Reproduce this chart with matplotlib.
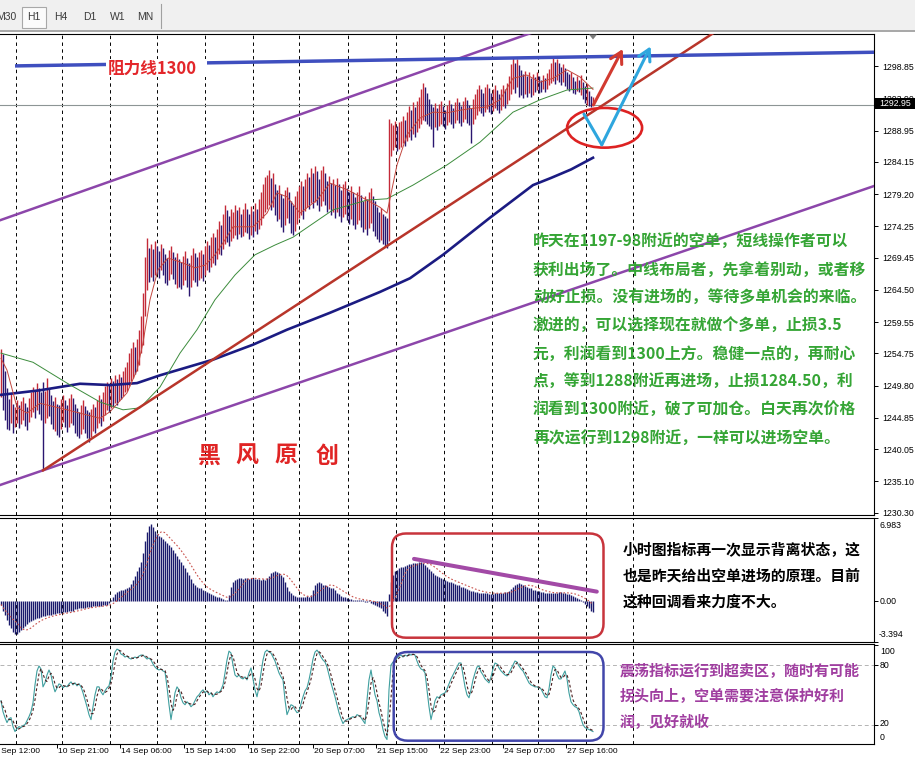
import numpy as np
import pandas as pd
import matplotlib
matplotlib.use("Agg")
import matplotlib.pyplot as plt
from matplotlib.patches import Ellipse, FancyBboxPatch, Polygon, Rectangle
from matplotlib.transforms import blended_transform_factory

plt.rcParams['font.family'] = ['Noto Sans CJK SC', 'DejaVu Sans']

# ---------------- XAUUSD H1 bars (high / low per bar) ----------------
bar_high = [
    1255.5, 1254.6, 1252.0, 1249.5, 1247.8, 1248.5, 1247.0, 1246.5, 1247.6, 1246.8, 1247.4,
    1248.0, 1247.2, 1246.5, 1247.9, 1248.8, 1249.6, 1249.0, 1250.2, 1249.5, 1248.8, 1250.4,
    1249.0, 1251.0, 1249.5, 1248.3, 1247.5, 1248.0, 1247.0, 1246.8, 1247.8, 1248.4, 1247.6,
    1246.9, 1247.9, 1248.6, 1247.9, 1247.0, 1246.4, 1245.8, 1246.9, 1247.6, 1246.7, 1246.0, 1245.7,
    1246.2, 1247.0, 1246.5, 1247.6, 1248.3, 1247.8, 1248.9, 1249.8, 1250.4, 1250.0, 1251.0,
    1250.5, 1251.4, 1250.8, 1251.6, 1251.2, 1252.0, 1252.6,
    1253.5, 1254.8, 1255.6, 1256.5, 1255.8, 1257.0, 1258.3, 1260.5, 1264.0, 1269.5, 1272.5, 1271.0,
    1271.5, 1270.8, 1272.0, 1271.2, 1270.5, 1271.6, 1270.9, 1270.0, 1269.4, 1270.6, 1271.3, 1270.4,
    1269.6, 1270.2, 1269.3, 1268.8, 1269.7, 1270.5, 1269.4, 1268.7, 1269.8, 1270.9, 1270.2, 1269.5, 1270.4,
    1270.6, 1270.0, 1271.2, 1272.0, 1271.4, 1272.6, 1273.3, 1272.7, 1273.9, 1275.1, 1274.4, 1276.2,
    1277.6, 1276.8, 1275.9, 1276.9,
    1276.4, 1277.5, 1276.8, 1277.3, 1276.1, 1276.9, 1277.8, 1277.0, 1276.2, 1277.4, 1276.7, 1277.9,
    1276.9, 1278.4, 1279.6, 1280.8, 1281.9, 1282.1, 1282.9, 1281.7, 1282.4, 1280.8, 1279.9, 1280.6,
    1279.3, 1278.6, 1279.8, 1280.3, 1279.5, 1278.2, 1277.6, 1278.9, 1279.7, 1280.4,
    1281.2, 1280.5, 1281.6, 1282.5, 1281.8, 1283.2, 1282.4, 1283.5, 1282.7, 1281.6, 1282.9, 1283.6,
    1282.5, 1281.3, 1282.0, 1280.9, 1281.6, 1280.6, 1281.7, 1280.8, 1279.9, 1280.7, 1281.3, 1280.2,
    1279.5, 1280.4, 1279.6, 1278.7, 1279.5, 1280.4, 1279.1, 1278.2, 1279.0, 1278.4, 1279.5, 1280.2,
    1279.0, 1278.1, 1277.3, 1276.5, 1277.1, 1276.2, 1275.8,
    1275.5, 1290.8, 1290.2, 1289.8, 1290.5, 1289.6, 1290.3,
    1290.4, 1291.2, 1290.6, 1291.9, 1292.8, 1292.2, 1293.3, 1292.6, 1293.5, 1294.2, 1295.3, 1296.3,
    1295.6, 1294.8,
    1293.8, 1293.0, 1292.6, 1293.2, 1292.4, 1293.0, 1293.5, 1292.8, 1292.2, 1292.9, 1293.6, 1293.1,
    1292.5, 1293.3, 1294.0, 1293.4, 1292.8, 1293.5, 1294.1, 1293.6, 1292.9, 1292.4, 1293.8,
    1294.6, 1295.4, 1296.0, 1295.3, 1294.7, 1295.6, 1296.2, 1295.5, 1294.8, 1295.4, 1295.9, 1295.2,
    1294.6, 1295.3, 1296.0, 1295.4, 1296.3, 1297.4,
    1299.2, 1300.1, 1299.4, 1300.0, 1299.0, 1298.2, 1297.6, 1298.1, 1297.4, 1297.9, 1297.0, 1297.7,
    1297.2, 1297.9, 1297.3, 1296.8, 1297.5, 1297.0, 1297.8, 1298.5, 1299.4, 1300.1, 1299.5, 1300.0,
    1299.3, 1298.7, 1299.2, 1298.6, 1298.0,
    1297.6, 1297.9, 1297.2, 1296.6, 1297.3, 1296.8, 1297.5, 1296.4, 1295.8, 1296.2, 1295.0, 1294.3, 1294.2,
]
bar_low = [
    1248.0, 1246.0, 1244.5, 1243.2, 1243.0, 1244.0, 1242.6, 1243.5, 1244.0, 1243.3, 1243.9,
    1244.5, 1243.6, 1243.0, 1244.2, 1245.0, 1245.8, 1244.9, 1246.0, 1245.5, 1244.6, 1236.8,
    1244.0, 1244.8, 1245.2, 1243.9, 1243.2, 1242.9, 1242.3, 1242.0, 1243.1, 1244.3, 1243.5,
    1242.7, 1243.4, 1244.0, 1243.7, 1242.6, 1242.1, 1241.7, 1242.4, 1243.1, 1242.5, 1241.8, 1241.2,
    1242.0, 1242.8, 1242.6, 1243.3, 1244.0, 1243.6, 1244.4, 1245.3, 1246.0, 1245.8, 1246.4,
    1246.6, 1247.2, 1246.9, 1247.5, 1247.7, 1248.2, 1248.8,
    1249.0, 1249.8, 1250.5, 1251.0, 1251.6, 1252.0, 1253.0, 1254.8, 1256.0, 1260.5, 1264.5, 1265.8,
    1266.5, 1265.9, 1266.8, 1267.0, 1266.4, 1267.5, 1266.8, 1265.6, 1265.2, 1266.0, 1266.9, 1266.2,
    1265.4, 1264.8, 1265.0, 1264.6, 1265.3, 1266.1, 1265.0, 1263.6, 1264.9, 1266.0, 1265.7, 1265.1, 1266.0,
    1266.4, 1265.9, 1266.8, 1267.5, 1267.2, 1268.0, 1268.6, 1268.3, 1269.2, 1270.0, 1269.9, 1270.8,
    1271.5, 1271.9, 1271.2, 1272.0,
    1272.5, 1273.0, 1272.3, 1273.1, 1272.6, 1272.8, 1273.4, 1273.2, 1272.4, 1273.0, 1272.7, 1273.6,
    1273.1, 1273.8, 1274.5, 1275.6, 1276.4, 1277.0, 1277.5, 1276.8, 1277.2, 1276.0, 1275.1, 1275.4,
    1274.2, 1273.4, 1274.5, 1275.6, 1274.8, 1273.3, 1272.9, 1273.6, 1274.6, 1275.5,
    1276.0, 1275.4, 1276.6, 1277.3, 1276.9, 1277.8, 1277.1, 1278.0, 1277.5, 1276.7, 1277.4, 1278.2,
    1277.6, 1276.4, 1276.9, 1276.0, 1276.5, 1275.6, 1276.4, 1275.8, 1275.0, 1275.7, 1276.2, 1275.3,
    1274.6, 1275.4, 1274.4, 1273.9, 1274.6, 1275.3, 1274.2, 1273.4, 1273.8, 1273.0, 1274.0, 1274.8,
    1273.6, 1272.8, 1272.4, 1271.8, 1272.1, 1271.5, 1271.2,
    1271.0, 1272.0, 1285.0, 1286.0, 1286.4, 1285.8, 1286.2,
    1286.5, 1287.0, 1286.6, 1287.3, 1288.0, 1287.6, 1288.4, 1288.0, 1288.7, 1289.3, 1290.0, 1290.6,
    1290.4, 1290.0,
    1289.6, 1289.2, 1286.4, 1289.5, 1289.0, 1289.7, 1290.0, 1289.6, 1289.2, 1289.8, 1290.3, 1290.0,
    1289.4, 1290.1, 1290.6, 1290.2, 1289.7, 1290.3, 1290.8, 1290.2, 1289.8, 1287.0, 1290.0,
    1290.8, 1291.4, 1292.0, 1291.6, 1291.2, 1291.9, 1292.3, 1291.8, 1291.5, 1292.0, 1292.5, 1292.1,
    1291.6, 1292.2, 1292.8, 1292.4, 1293.0, 1293.6,
    1294.6, 1295.3, 1294.8, 1295.6, 1294.2, 1294.5, 1294.0, 1294.6, 1294.2, 1294.8, 1294.1, 1294.5,
    1294.9, 1295.2, 1294.8, 1294.9, 1295.3, 1294.9, 1295.4, 1295.9, 1296.3, 1296.6, 1296.2, 1296.8,
    1296.4, 1296.0, 1296.5, 1295.8, 1295.4,
    1295.0, 1295.3, 1294.7, 1294.6, 1295.1, 1294.9, 1294.5, 1293.8, 1293.2, 1292.9, 1292.7, 1292.6, 1292.9,
]

# moving averages (bar index, price)
ma_fast_bar = [0, 3, 8, 13, 19.5, 33, 49.5, 54.5, 63, 68, 71, 74.5, 78.5, 83.5, 89.5, 97, 102,
               107, 112, 116, 126, 133, 138, 143, 149.5, 158, 164.5, 173, 183, 189.5, 193, 198,
               203, 209.5, 216, 223, 229.5, 236, 243, 249.5, 256, 263, 269.5, 276, 283, 289.5, 296]
ma_fast = [1254.0, 1252.2, 1246.5, 1245.6, 1247.1, 1246.1, 1244.8, 1245.8, 1248.7, 1252.2,
           1256.4, 1263.0, 1267.6, 1269.4, 1268.8, 1267.9, 1268.3, 1269.9, 1272.2, 1274.2,
           1274.2, 1276.3, 1279.4, 1278.8, 1276.3, 1278.3, 1280.9, 1279.9, 1278.3, 1277.2,
           1276.3, 1283.7, 1288.3, 1290.9, 1291.8, 1291.7, 1292.1, 1292.4, 1292.6, 1293.7,
           1297.0, 1297.5, 1296.4, 1297.0, 1298.3, 1297.2, 1295.3]
ma_mid_bar = [0, 16, 33, 49.5, 61, 69.5, 79.5, 89.5, 98, 107, 117, 127, 137, 146, 166, 183, 193,
              206, 223, 239.5, 256, 269.5, 283, 296]
ma_mid = [1254.8, 1253.4, 1250.2, 1247.3, 1246.1, 1246.4, 1249.6, 1254.8, 1258.4, 1263.0,
          1266.8, 1269.9, 1271.4, 1272.6, 1276.8, 1278.3, 1278.5, 1280.6, 1283.7, 1287.2,
          1291.8, 1293.7, 1295.2, 1295.5]
ma_slow_bar = [0, 19.5, 39.5, 54.5, 68, 79.5, 106, 126, 143, 164.5, 189.5, 204.5, 221, 244.5,
               266, 275, 285, 296]
ma_slow = [1248.4, 1249.1, 1250.1, 1249.9, 1250.2, 1251.4, 1253.8, 1256.1, 1258.4, 1261.0,
           1264.2, 1266.3, 1269.9, 1275.6, 1280.6, 1281.7, 1283.0, 1284.8]

# MACD main line per bar
macd_main = [
    -0.3, -0.8, -1.2, -1.6, -2.0, -2.3, -2.6, -2.8, -2.75, -2.6,
    -2.4, -2.25, -2.1, -1.95, -1.8, -1.7, -1.6, -1.55, -1.45, -1.4,
    -1.35, -1.3, -1.3, -1.2, -1.15, -1.15, -1.1, -1.1, -1.05, -1.0,
    -1.0, -0.95, -0.95, -0.9, -0.85, -0.85, -0.8, -0.7, -0.65, -0.6,
    -0.6, -0.55, -0.55, -0.5, -0.5, -0.5, -0.45, -0.45, -0.4, -0.4,
    -0.4, -0.35, -0.35, -0.3, -0.15, 0.05, 0.3, 0.6, 0.75, 0.85,
    0.9, 0.95, 1.0, 1.1, 1.2, 1.4, 1.75, 2.1, 2.5, 2.8,
    3.3, 4.0, 5.0, 5.8, 6.3, 6.4, 6.15, 5.85, 5.6, 5.45,
    5.35, 5.2, 5.0, 4.87, 4.7, 4.5, 4.3, 4.05, 3.8, 3.55,
    3.3, 3.0, 2.75, 2.45, 2.2, 1.85, 1.5, 1.35, 1.2, 1.1,
    1.05, 0.95, 0.85, 0.77, 0.7, 0.6, 0.5, 0.42, 0.35, 0.3,
    0.25, 0.15, 0.1, 0.07, 0.5, 1.2, 1.6, 1.75, 1.85, 1.9,
    1.9, 1.85, 1.95, 1.9, 1.85, 1.9, 1.9, 1.85, 1.8, 1.8,
    1.75, 1.8, 1.75, 1.9, 2.1, 2.35, 2.45, 2.5, 2.45, 2.3,
    2.15, 2.0, 1.6, 1.2, 0.85, 0.65, 0.5, 0.4, 0.35, 0.35,
    0.3, 0.35, 0.35, 0.4, 0.35, 0.5, 0.9, 1.3, 1.5, 1.55,
    1.5, 1.35, 1.3, 1.25, 1.15, 1.1, 1.05, 0.9, 0.7, 0.55,
    0.45, 0.35, 0.3, 0.25, 0.2, 0.15, 0.12, 0.1, 0.1, 0.07,
    0.05, 0.1, -0.05, -0.1, 0.05, -0.15, -0.25, -0.3, -0.4, -0.5,
    -0.6, -0.8, -1.05, -1.3, 0.6, 1.6, 2.2, 2.5, 2.6, 2.75,
    2.8, 2.85, 2.9, 3.0, 3.05, 3.1, 3.15, 3.2, 3.2, 3.25,
    3.3, 3.2, 3.0, 2.85, 2.7, 2.5, 2.35, 2.2, 2.1, 2.0,
    1.9, 1.85, 1.75, 1.65, 1.6, 1.55, 1.5, 1.45, 1.35, 1.3,
    1.2, 1.15, 1.05, 1.0, 0.95, 0.85, 0.8, 0.77, 0.75, 0.7,
    0.7, 0.65, 0.65, 0.65, 0.6, 0.6, 0.62, 0.63, 0.65, 0.7,
    0.68, 0.7, 0.72, 0.75, 0.8, 1.0, 1.2, 1.35, 1.45, 1.5,
    1.45, 1.35, 1.25, 1.15, 1.1, 1.05, 0.95, 0.9, 0.85, 0.8,
    0.75, 0.72, 0.68, 0.65, 0.63, 0.63, 0.65, 0.68, 0.7, 0.72,
    0.72, 0.7, 0.68, 0.62, 0.55, 0.49, 0.42, 0.35, 0.25, 0.15,
    0.05, -0.1, -0.24, -0.4, -0.6, -0.8, -0.95,
]

# Stochastic %K per bar
stoch_k = [
    44, 33, 27, 22, 26, 27, 18, 13, 16, 18,
    17, 19, 20, 24, 28, 33, 42, 60, 74, 79,
    76, 58, 62, 70, 75, 70, 60, 53, 57, 61,
    60, 57, 59, 58, 61, 63, 60, 62, 59, 61,
    58, 52, 45, 38, 30, 25, 38, 50, 58, 58,
    53, 50, 54, 57, 59, 68, 84, 93, 96, 95,
    91, 90, 88, 89, 87, 86, 87, 88, 87, 89,
    90, 90, 88, 86, 87, 85, 81, 78, 76, 75,
    76, 74, 73, 58, 40, 25, 38, 52, 58, 55,
    47, 42, 40, 43, 41, 38, 40, 44, 48, 50,
    53, 55, 52, 54, 50, 52, 48, 51, 53, 52,
    55, 60, 72, 85, 94, 92, 80, 70, 68, 70,
    67, 66, 68, 65, 72, 77, 66, 55, 48, 58,
    72, 85, 93, 95, 93, 92, 88, 84, 78, 72,
    68, 65, 45, 30, 35, 40, 39, 35, 32, 33,
    41, 48, 54, 57, 65, 75, 86, 93, 95, 92,
    88, 85, 83, 78, 70, 62, 55, 48, 40, 32,
    26, 21, 24, 25, 26, 27, 28, 27, 30, 29,
    27, 24, 21, 45, 65, 75, 62, 50, 44, 32,
    25, 15, 8, 5, 55, 80, 83, 85, 87, 89,
    90, 88, 90, 89, 91, 90, 91, 90, 84, 79,
    76, 75, 72, 55, 38, 25, 34, 44, 48, 47,
    50, 51, 52, 56, 61, 66, 70, 74, 78, 82,
    82, 70, 58, 50, 47, 55, 65, 72, 78, 79,
    73, 70, 66, 64, 62, 68, 76, 82, 81, 77,
    74, 72, 70, 69, 72, 76, 80, 84, 83, 79,
    76, 74, 70, 66, 62, 60, 59, 58, 58, 57,
    56, 52, 48, 47, 56, 70, 79, 77, 70, 66,
    66, 70, 74, 66, 52, 43, 40, 38, 37, 33,
    26, 20, 17, 16, 15, 14, 13,
]

last_price = 1292.95
price_ticks = [1298.85, 1293.90, 1288.95, 1284.15, 1279.20, 1274.25, 1269.45, 1264.50,
               1259.55, 1254.75, 1249.80, 1244.85, 1240.05, 1235.10, 1230.30]
macd_ticks = [6.983, 0.0, -3.394]
stoch_ticks = [100, 80, 20, 0]
day_breaks = [7.4, 30.4, 54.4, 78.2, 102.2, 126.2, 149.2, 173.4, 197.4, 221.5, 245.3, 268.4,
              292.3, 316.0]
time_label_bars = [-4, 28, 59.5, 91.5, 123.5, 156, 187.5, 219, 251, 282.5]
time_labels = ["9 Sep 12:00", "10 Sep 21:00", "14 Sep 06:00", "15 Sep 14:00", "16 Sep 22:00",
               "20 Sep 07:00", "21 Sep 15:00", "22 Sep 23:00", "24 Sep 07:00", "27 Sep 16:00"]
timeframes = ["M30", "H1", "H4", "D1", "W1", "MN"]

# hand-drawn objects: (bar, price) anchors
upper_channel = [(-0.5, 1275.2), (264.5, 1303.9)]
lower_channel = [(-0.5, 1234.55), (436.5, 1280.46)]
support_line = [(21, 1236.8), (339.5, 1300.6)]
resist_line = [(7, 1298.9), (436.5, 1301.0)]
red_arrow = [(296.2, 1292.9), (310.9, 1301.5)]
blue_arrow = [(291.5, 1291.5), (300.4, 1286.8), (324.8, 1301.9)]
target_ellipse = (301.8, 1289.4, 37.5, 6.1)
macd_divergence = [(206.5, 3.52), (297.9, 0.78)]

resist_text = "阻力线1300"
signature = "黑风原创"
plan_lines = [
    "昨天在1197-98附近的空单，短线操作者可以",
    "获利出场了。中线布局者，先拿着别动，或者移",
    "动好止损。没有进场的，等待多单机会的来临。",
    "激进的，可以选择现在就做个多单，止损3.5",
    "元，利润看到1300上方。稳健一点的，再耐心",
    "点，等到1288附近再进场，止损1284.50，利",
    "润看到1300附近，破了可加仓。白天再次价格",
    "再次运行到1298附近，一样可以进场空单。",
]
macd_note = ["小时图指标再一次显示背离状态，这",
             "也是昨天给出空单进场的原理。目前",
             "这种回调看来力度不大。"]
stoch_note = ["震荡指标运行到超卖区，随时有可能",
              "拐头向上，空单需要注意保护好利",
              "润，见好就收"]

# ---------------- figure & panels ----------------
W, H = 915, 759
fig = plt.figure(figsize=(W / 100, H / 100), dpi=100)
fig.patch.set_facecolor("white")


def frame(x0, y0, x1, y1):
    return [x0 / W, 1 - y1 / H, (x1 - x0) / W, (y1 - y0) / H]


ax = fig.add_axes(frame(0, 34, 874, 515))
axm = fig.add_axes(frame(0, 517.5, 874, 641.5))
axs = fig.add_axes(frame(0, 644, 874, 743.5))
NUM = "Liberation Sans"

for a in (ax, axm, axs):
    a.set_xlim(-0.5, 436.5)
    a.set_xticks([])
    for s in a.spines.values():
        s.set_linewidth(0.8)
        s.set_color("black")
    a.spines["left"].set_visible(False)
    a.yaxis.tick_right()
    a.tick_params(axis="y", length=3, width=0.7, pad=3, labelsize=6.3, direction="out")
    for g in day_breaks:
        a.axvline(g, color="black", lw=0.7, ls=(0, (3.5, 3.5)), zorder=0.5)

# ---- main price panel ----
ax.set_ylim(1229.95, 1303.80)
ax.set_yticks(price_ticks)
ax.set_yticklabels([f"{v:.2f}" for v in price_ticks], fontfamily=NUM)

idx = np.arange(len(bar_high))
hi = np.array(bar_high)
lo = np.array(bar_low)
mid = (hi + lo) / 2
rising = np.r_[True, mid[1:] >= mid[:-1]]
ax.vlines(idx, lo, hi, colors=np.where(rising, "#c42a38", "#2a1670"), lw=1.0, zorder=2)

ax.axhline(last_price, color="#8d9595", lw=0.8, zorder=1)
ax.plot(ma_slow_bar, ma_slow, color="#1b1b82", lw=1.9, zorder=3)
ax.plot(ma_mid_bar, ma_mid, color="#3c8c3c", lw=0.7, zorder=3)
ax.plot(ma_fast_bar, ma_fast, color="#c2473f", lw=0.7, zorder=3)


def extend(pts, x0, x1):
    (xa, ya), (xb, yb) = pts
    k = (yb - ya) / (xb - xa)
    return [x0, x1], [ya + k * (x0 - xa), ya + k * (x1 - xa)]


ax.plot(*extend(upper_channel, -0.5, 300), color="#8c46aa", lw=1.8, zorder=4)
ax.plot(*extend(lower_channel, -0.5, 436.5), color="#8c46aa", lw=1.8, zorder=4)
ax.plot(*extend(support_line, 21, 380), color="#b8352a", lw=1.8, zorder=4)
ax.plot(*extend(resist_line, 7, 436.5), color="#3f4fbf", lw=2.5, zorder=4,
        solid_capstyle="butt")

ex, ey, ew, eh = target_ellipse
ax.add_patch(Ellipse((ex, ey), ew, eh, fill=False, ec="#dd2222", lw=1.9, zorder=5))
head = "->,head_length=0.8,head_width=0.45"
ax.annotate("", xy=red_arrow[1], xytext=red_arrow[0],
            arrowprops=dict(arrowstyle=head, color="#d23a30", lw=2.2, shrinkA=0, shrinkB=0,
                            mutation_scale=10), zorder=5)
bx = [p[0] for p in blue_arrow[:2]]
by = [p[1] for p in blue_arrow[:2]]
ax.plot(bx, by, color="#2ea6de", lw=2.2, solid_capstyle="round", zorder=5)
ax.annotate("", xy=blue_arrow[2], xytext=blue_arrow[1],
            arrowprops=dict(arrowstyle=head, color="#2ea6de", lw=2.2, shrinkA=0, shrinkB=0,
                            mutation_scale=10), zorder=5)

# ---- MACD panel ----
axm.set_ylim(-3.394, 6.983)
axm.vlines(idx, 0, macd_main, colors="#1a1a6c", lw=1.0, zorder=2)
macd_signal = pd.Series(macd_main).rolling(9, min_periods=1).mean()
axm.plot(idx, macd_signal, color="#c8504a", lw=0.8, ls=(0, (1.5, 1.8)), zorder=3)
axm.plot([p[0] for p in macd_divergence], [p[1] for p in macd_divergence],
         color="#a24aa6", lw=2.9, solid_capstyle="round", zorder=4)
axm.set_yticks(macd_ticks)
axm.set_yticklabels([])

# ---- Stochastic panel ----
axs.set_ylim(0.97, 101.14)
for lv in (80, 20):
    axs.axhline(lv, color="#b4b4b4", lw=0.7, ls=(0, (4, 3)), zorder=1)
axs.plot(idx, stoch_k, color="#3f9f9f", lw=0.8, zorder=3)
stoch_d = pd.Series(stoch_k).rolling(3, min_periods=1).mean()
axs.plot(idx, stoch_d, color="#4b1e1e", lw=0.8, ls=(0, (2.5, 2)), zorder=3)
axs.set_yticks([t for t in stoch_ticks if t > 1])
axs.set_yticklabels([])
axs.set_xticks([b for b in time_label_bars if b >= 0])
axs.tick_params(axis="x", length=3, width=0.7, direction="out", labelbottom=False)
tb = blended_transform_factory(axs.transData, axs.transAxes)
for b, lab in zip(time_label_bars, time_labels):
    axs.text(b + 0.6, -0.078, lab, transform=tb, ha="left", va="center",
             fontsize=6.1, fontfamily=NUM, clip_on=False)

# ---------------- overlay in pixel units ----------------
ov = fig.add_axes([0, 0, 1, 1], zorder=10)
ov.set_xlim(0, W)
ov.set_ylim(H, 0)
ov.axis("off")

# timeframe toolbar
ov.add_patch(Rectangle((0, 0), W, 30, fc="#f0f0f0", ec="none"))
ov.plot([0, W], [30.5, 30.5], color="#a0a0a0", lw=1.3)
ov.add_patch(Rectangle((22, 7), 24, 21, fc="#fbfbfb", ec="#a8a8a8", lw=0.8))
for lab, cx in zip(timeframes, [6, 34, 60.5, 89.5, 117.5, 145]):
    ov.text(cx, 17.5, lab, ha="center", va="center", fontsize=7.5, fontfamily=NUM,
            color="#3a3a3a")
ov.plot([160.5, 160.5], [4, 28], color="#a0a0a0", lw=0.8)
ov.add_patch(Polygon([(589, 34.5), (597, 34.5), (593, 39.5)], closed=True, fc="#7a7a7a",
                     ec="none"))

# current price tag
ov.add_patch(Rectangle((875, 97.5), 40, 11, fc="black", ec="none"))
ov.text(879, 103, f"{last_price:.2f}", color="white", ha="left", va="center",
        fontsize=6.3, fontfamily=NUM)

# indicator scale labels
for txt, y in zip(["6.983", "0.00", "-3.394"], [525, 601, 634.5]):
    ov.text(880 if not txt.startswith("-") else 878.5, y, txt, ha="left", va="center",
            fontsize=6.3, fontfamily=NUM)
for txt, y in zip(["100", "80", "20", "0"], [651, 665, 724, 737]):
    ov.text(880, y, txt, ha="left", va="center", fontsize=6.3, fontfamily=NUM)

# resistance label with white backing
ov.add_patch(Rectangle((106, 59), 101, 18, fc="white", ec="none"))
ov.text(108, 68.5, resist_text, ha="left", va="center", fontsize=12, fontweight="bold",
        color="#e3262a")

# signature
for ch, cx in zip(signature, [208, 247, 286, 327]):
    ov.text(cx, 456, ch, ha="center", va="center", fontsize=16.5, fontweight="bold",
            color="#e02424")

# trading plan
for i, line in enumerate(plan_lines):
    ov.text(533, 241.7 + 28.1 * i, line, ha="left", va="center", fontsize=11.4,
            fontweight="bold", color="#35a535")

# MACD note and box
ov.add_patch(FancyBboxPatch((392, 533.5), 211.5, 104.2,
                            boxstyle="round,pad=0,rounding_size=14",
                            fc="none", ec="#c8343c", lw=1.8))
for i, line in enumerate(macd_note):
    ov.text(623, 550 + 26 * i, line, ha="left", va="center", fontsize=10.7,
            fontweight="bold", color="black")

# Stochastic note and box
ov.add_patch(FancyBboxPatch((393.7, 652), 209.8, 88.7,
                            boxstyle="round,pad=0,rounding_size=14",
                            fc="none", ec="#4246aa", lw=1.8))
for i, line in enumerate(stoch_note):
    ov.text(620, 670.7 + 25.7 * i, line, ha="left", va="center", fontsize=10.8,
            fontweight="bold", color="#a03ea0")

fig.savefig("out.png", dpi=100)
